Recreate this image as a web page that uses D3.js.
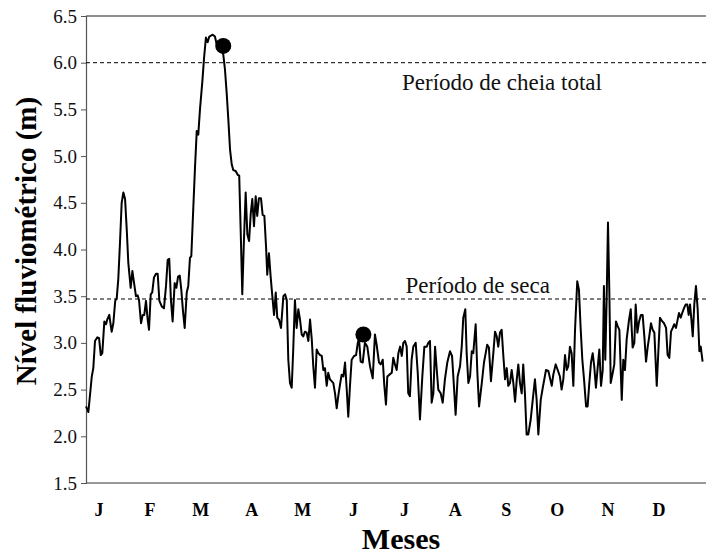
<!DOCTYPE html>
<html><head><meta charset="utf-8">
<script src="https://cdn.jsdelivr.net/npm/d3@7"></script>
<style>body{margin:0;background:#fff}svg{display:block}svg text{font-family:"Liberation Serif","Times New Roman","DejaVu Serif",serif !important}</style>
</head><body>
<svg id="c" width="708" height="554"></svg>
<script>
const months = ["J","F","M","A","M","J","J","A","S","O","N","D"];
const yTicks = [1.5,2.0,2.5,3.0,3.5,4.0,4.5,5.0,5.5,6.0,6.5];
const days = [0,1.4,3.4,4.3,5.3,6.7,7.7,8.7,9.6,10.8,11.8,12.5,13.7,15.1,16.1,17.2,18.1,19.0,20.0,21.0,22.0,23.0,24.0,24.9,26.3,27.3,28.3,29.4,30.4,31.2,32.4,33.4,34.3,35.3,36.3,37.1,38.1,39.0,40.0,41.2,42.2,43.2,44.6,45.9,47.1,48.1,49.0,50.0,51.0,52.2,53.2,54.2,55.2,56.1,57.1,58.1,59.3,60.2,61.2,62.0,63.2,64.2,65.2,66.1,67.1,68.5,69.5,70.6,71.6,72.6,73.6,74.6,75.9,76.9,78.3,79.5,80.8,81.8,82.8,83.8,84.8,85.8,86.7,88.1,89.3,90.2,91.1,92.0,93.0,94.0,95.0,96.0,97.0,97.9,98.9,99.9,100.8,101.8,103.0,104.0,105.0,106.0,106.7,107.7,108.7,109.7,110.7,111.7,112.6,113.6,114.8,116.2,117.2,118.2,119.1,120.1,121.1,122.0,123.0,124.0,125.0,126.0,127.0,127.9,128.9,129.9,130.9,131.9,132.9,133.8,134.8,135.8,136.8,137.8,138.8,139.7,140.7,141.7,142.6,143.6,144.6,145.6,146.6,147.6,148.5,149.5,150.5,151.5,152.5,153.5,154.4,155.4,156.4,157.8,159.0,160.0,160.7,161.7,162.9,164.2,165.6,167.2,168.8,170.1,171.1,172.5,173.5,174.7,175.6,176.6,177.4,178.6,180.0,180.9,181.9,182.9,183.9,184.9,185.9,186.8,187.8,188.8,189.7,190.7,191.7,192.7,194.1,195.3,196.6,198.0,199.2,200.6,201.5,202.5,203.5,204.5,205.5,206.5,207.4,208.8,210.0,211.3,212.7,214.3,215.5,216.6,217.6,218.8,220.2,221.2,222.1,223.3,224.1,225.1,226.1,227.1,228.0,229.4,230.4,231.4,233.0,234.3,235.3,236.2,237.2,238.4,239.8,240.8,241.8,242.7,243.7,244.7,245.7,246.7,247.7,248.6,249.6,250.6,251.6,252.6,253.6,254.5,255.5,256.5,257.4,258.4,259.4,260.4,261.8,263.0,264.3,265.3,266.3,267.7,268.9,269.8,270.8,272.2,273.2,274.2,275.1,276.5,277.7,279.0,280.0,281.0,282.0,283.0,283.9,284.9,285.9,286.9,287.9,289.2,290.2,291.2,292.2,293.2,294.4,295.3,296.3,297.3,298.3,299.2,300.2,301.2,302.2,303.2,304.2,304.9,305.7,306.5,307.3,308.1,308.9,310.1,311.0,312.0,313.0,314.0,315.4,316.3,317.3,318.3,319.7,320.7,321.8,322.8,323.6,324.6,325.6,326.7,327.7,328.7,329.7,330.7,331.6,332.6,333.6,334.6,336.0,336.9,337.9,339.3,340.3,341.5,342.4,343.4,344.4,345.4,346.3,347.3,348.1,349.1,350.1,351.0,352.0,353.0,354.0,354.8,355.6,356.4,357.2,358.1,359.1,360.1,361.1,361.9,363.0];
const levels = [2.32,2.26,2.64,2.73,3.02,3.06,3.05,2.87,2.89,3.23,3.20,3.25,3.30,3.12,3.21,3.45,3.48,3.68,4.07,4.50,4.61,4.54,4.21,3.86,3.59,3.77,3.64,3.50,3.51,3.46,3.21,3.30,3.30,3.45,3.25,3.14,3.52,3.54,3.70,3.74,3.74,3.45,3.39,3.37,3.61,3.89,3.90,3.46,3.23,3.64,3.59,3.71,3.72,3.57,3.34,3.16,3.54,3.61,3.91,3.93,4.46,4.89,5.27,5.23,5.50,5.80,6.05,6.27,6.22,6.28,6.29,6.30,6.28,6.20,6.17,6.14,6.09,5.93,5.68,5.39,5.07,4.91,4.85,4.84,4.80,4.79,4.18,3.52,4.11,4.61,4.16,4.09,4.39,4.54,4.25,4.57,4.36,4.55,4.55,4.37,4.36,4.03,3.73,3.96,3.71,3.50,3.30,3.54,3.27,3.25,3.16,3.50,3.52,3.46,2.82,2.57,2.52,2.93,3.46,3.16,3.36,3.25,3.09,3.07,3.12,3.11,3.02,3.25,3.04,2.75,2.52,2.93,2.89,2.87,2.86,2.71,2.73,2.54,2.68,2.61,2.59,2.57,2.46,2.30,2.43,2.55,2.66,2.64,2.79,2.50,2.21,2.54,2.82,2.86,2.87,3.00,3.05,2.80,2.79,3.00,2.96,2.75,2.62,3.09,2.98,2.79,2.77,2.82,2.55,2.34,2.64,2.66,2.68,2.84,2.77,2.71,2.89,2.96,2.86,3.00,3.02,2.96,2.46,2.43,2.82,2.96,3.00,2.68,2.18,2.64,2.96,2.96,3.00,3.02,2.36,2.46,2.96,2.71,2.50,2.46,2.36,2.61,2.79,2.91,2.86,2.54,2.23,2.64,2.75,2.96,3.27,3.36,2.89,2.57,2.64,2.91,2.89,3.20,2.68,2.32,2.57,2.79,2.89,2.98,2.95,2.59,2.89,3.12,3.07,2.96,3.11,3.14,2.86,2.61,2.73,2.54,2.57,2.71,2.57,2.37,2.61,2.77,2.57,2.46,2.77,2.46,2.02,2.02,2.18,2.39,2.61,2.39,2.02,2.39,2.52,2.61,2.71,2.70,2.62,2.54,2.66,2.77,2.71,2.64,2.50,2.61,2.87,2.71,2.75,2.96,2.89,2.54,3.14,3.66,3.57,3.16,2.82,2.61,2.32,2.32,2.57,2.79,2.89,2.75,2.52,2.73,2.93,2.54,2.71,3.61,2.82,3.46,4.29,3.54,2.57,2.68,2.77,3.23,3.18,3.14,2.39,2.82,2.71,3.04,3.25,3.36,2.95,3.00,3.41,3.11,3.23,3.30,3.30,3.07,2.80,2.96,3.07,3.21,3.14,3.11,2.54,2.89,3.27,3.23,3.21,3.16,2.87,2.84,3.12,3.16,3.20,3.16,3.23,3.32,3.27,3.32,3.37,3.41,3.41,3.30,3.41,3.25,3.07,3.41,3.61,3.36,2.91,2.96,2.80];
const markerDays = [80.8, 163.3];
const markerLevels = [6.18, 3.09];
const refLevels = [6.0, 3.47];
const refLabels = ["Período de cheia total", "Período de seca"];

const svg = d3.select("#c");
const L = 86, R = 706, T = 16, B = 483;
const x = d3.scaleLinear().domain([0, 365]).range([L, R]);
const y = d3.scaleLinear().domain([1.5, 6.5]).range([B, T]);
const xm = d3.scalePoint().domain(d3.range(months.length)).range([99, 659]);

// frame
svg.append("line").attr("x1", L).attr("x2", R).attr("y1", T).attr("y2", T).attr("stroke", "#222").attr("stroke-width", 1.2);
svg.append("line").attr("x1", L).attr("x2", R).attr("y1", B).attr("y2", B).attr("stroke", "#333").attr("stroke-width", 1.2);

// y axis
const ya = svg.append("g").attr("transform", `translate(${L},0)`)
  .call(d3.axisLeft(y).tickValues(yTicks).tickFormat(d3.format(".1f")).tickSize(5).tickPadding(4));
ya.attr("font-family", null);
ya.select(".domain").attr("stroke", "#555").attr("stroke-width", 1.2);
ya.selectAll(".tick line").attr("stroke", "#555");
ya.selectAll("text").style("font-size", "19px").attr("fill", "#111");

// month labels
svg.append("g").selectAll("text").data(months).join("text")
  .attr("x", (d, i) => xm(i)).attr("y", 516).attr("text-anchor", "middle")
  .style("font-size", "18px").style("font-weight", "bold").text(d => d);

// reference lines
svg.append("g").selectAll("line").data(refLevels).join("line")
  .attr("x1", L).attr("x2", R).attr("y1", d => y(d)).attr("y2", d => y(d))
  .attr("stroke", "#000").attr("stroke-width", 1).attr("stroke-dasharray", "4,3");
svg.append("g").selectAll("text").data(refLabels).join("text")
  .attr("x", (d, i) => i === 0 ? 402 : 405.5)
  .attr("y", (d, i) => y(refLevels[i]) + (i === 0 ? 27.5 : -6))
  .style("font-size", "23px").attr("fill", "#111").text(d => d);

// series
const line = d3.line().x(d => x(d[0])).y(d => y(d[1]));
svg.append("path").datum(days.map((d, i) => [d, levels[i]]))
  .attr("d", line).attr("fill", "none").attr("stroke", "#000").attr("stroke-width", 2).attr("stroke-linejoin", "round");

// markers
svg.append("g").selectAll("circle").data(markerDays).join("circle")
  .attr("cx", d => x(d)).attr("cy", (d, i) => y(markerLevels[i])).attr("r", 8).attr("fill", "#000");

// axis titles
svg.append("text").attr("x", 401).attr("y", 549).attr("text-anchor", "middle")
  .style("font-size", "30px").style("font-weight", "bold").text("Meses");
svg.append("text").attr("transform", "translate(36,241) rotate(-90)").attr("text-anchor", "middle")
  .style("font-size", "29px").style("font-weight", "bold").text("Nível fluviométrico (m)");
</script>
</body></html>
